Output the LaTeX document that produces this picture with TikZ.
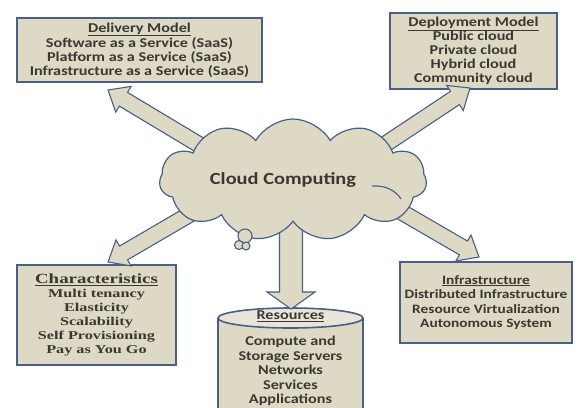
\documentclass[tikz,border=0pt]{standalone}
\usepackage{fontspec}
\usetikzlibrary{shapes.symbols,calc}
\newfontfamily\calfont[FakeStretch=1.2]{Carlito}
\newfontfamily\camfont[FakeStretch=1.35]{Liberation Serif}
\definecolor{tan}{RGB}{221,217,196}
\definecolor{tanlight}{RGB}{232,229,216}
\definecolor{edge}{RGB}{72,96,136}
\definecolor{txt}{RGB}{58,56,50}
\tikzset{
  box/.style={draw=edge, line width=1.6pt, fill=tan, align=center, text=txt, inner sep=0pt},
  calf/.style={font=\calfont\bfseries\fontsize{13.5}{14}\selectfont},
  barrow/.style={draw=edge, line width=1.1pt, fill=tan, line join=miter},
  bubble/.style={draw=edge, line width=1.1pt, fill=tan},
}
% tail, tip, shaft half width, head half width, head length
\newcommand\blockarrow[5]{%
  \coordinate (hb) at ($(#2)!#5!(#1)$);
  \draw[barrow] ($(#1)!#3!90:(#2)$) -- ($(hb)!#3!-90:(#1)$) -- ($(hb)!#4!-90:(#1)$) -- (#2)
    -- ($(hb)!#4!90:(#1)$) -- ($(hb)!#3!90:(#1)$) -- ($(#1)!#3!-90:(#2)$) -- cycle;
}
\begin{document}
\begin{tikzpicture}[x=1pt,y=-1pt]
\useasboundingbox (0,0) rectangle (581,407);
\clip (0,0) rectangle (581,407);
\fill[white] (0,0) rectangle (581,407);

% boxes
\node[box, calf, minimum width=245pt, minimum height=64pt] (dm) at (139.5,50)
  {\underline{Delivery Model}\\Software as a Service (SaaS)\\Platform as a Service (SaaS)\\Infrastructure as a Service (SaaS)};
\node[box, calf, minimum width=167pt, minimum height=76pt] (dep) at (473.5,51)
  {\underline{Deployment Model}\\Public cloud\\Private cloud\\Hybrid cloud\\Community cloud};
\node[box, font=\camfont\bfseries\fontsize{12}{14}\selectfont, minimum width=159pt, minimum height=100pt] (ch) at (96.5,315)
  {{\fontsize{14}{15}\selectfont\underline{Characteristics}}\\Multi tenancy\\Elasticity\\Scalability\\Self Provisioning\\Pay as You Go};
\node[box, font=\calfont\bfseries\fontsize{12.8}{14.5}\selectfont, minimum width=172pt, minimum height=81pt] (inf) at (486,302.5)
  {\underline{Infrastructure}\\Distributed Infrastructure\\Resource Virtualization\\Autonomous System};

% resources cylinder
\draw[draw=edge, line width=1.6pt, fill=tan] (218,318) -- (218,430) -- (363,430) -- (363,318);
\draw[draw=edge, line width=1.6pt, fill=tanlight] (290.5,318) ellipse [x radius=72.5pt, y radius=10pt];
\coordinate (restop) at (291,309);

% arrow ends
\coordinate (a1s) at (218,156);  \coordinate (a1t) at (108,90);
\coordinate (a2s) at (372,153);  \coordinate (a2t) at (470,88);
\coordinate (a3s) at (204,206);  \coordinate (a3t) at (108,262);
\coordinate (a4s) at (374,196);  \coordinate (a4t) at (479,257);
\coordinate (a5s) at (291,200);

\blockarrow{a1s}{a1t}{8pt}{15pt}{18pt}
\blockarrow{a2s}{a2t}{8pt}{15pt}{18pt}
\blockarrow{a3s}{a3t}{8pt}{15pt}{18pt}
\blockarrow{a4s}{a4t}{8pt}{15pt}{18pt}
\blockarrow{a5s}{restop}{11.5pt}{24pt}{17pt}

\node[text=txt, calf] (resh) at (290.5,316) {\underline{Resources}};
\node[text=txt, align=center, font=\calfont\bfseries\fontsize{13.5}{14.6}\selectfont] (res) at (290.5,371)
  {Compute and\\Storage Servers\\Networks\\Services\\Applications};

% cloud
\node[cloud, cloud puffs=11, cloud puff arc=120, aspect=2.4, draw=edge, line width=1.2pt, fill=tan,
  minimum width=267pt, minimum height=122pt, inner sep=0pt] (cc) at (293,180) {};
\draw[edge, line width=1.1pt] (372,186) .. controls (386,185) and (396,191) .. (401,199);
\node[text=txt, font=\calfont\bfseries\fontsize{17}{18}\selectfont] (cct) at (283,180) {Cloud Computing};

% thought bubbles
\draw[bubble] (245,236) circle [radius=7pt];
\draw[bubble] (239,245) circle [radius=4.5pt];
\draw[bubble] (246,246) circle [radius=4pt];
\end{tikzpicture}
\end{document}
